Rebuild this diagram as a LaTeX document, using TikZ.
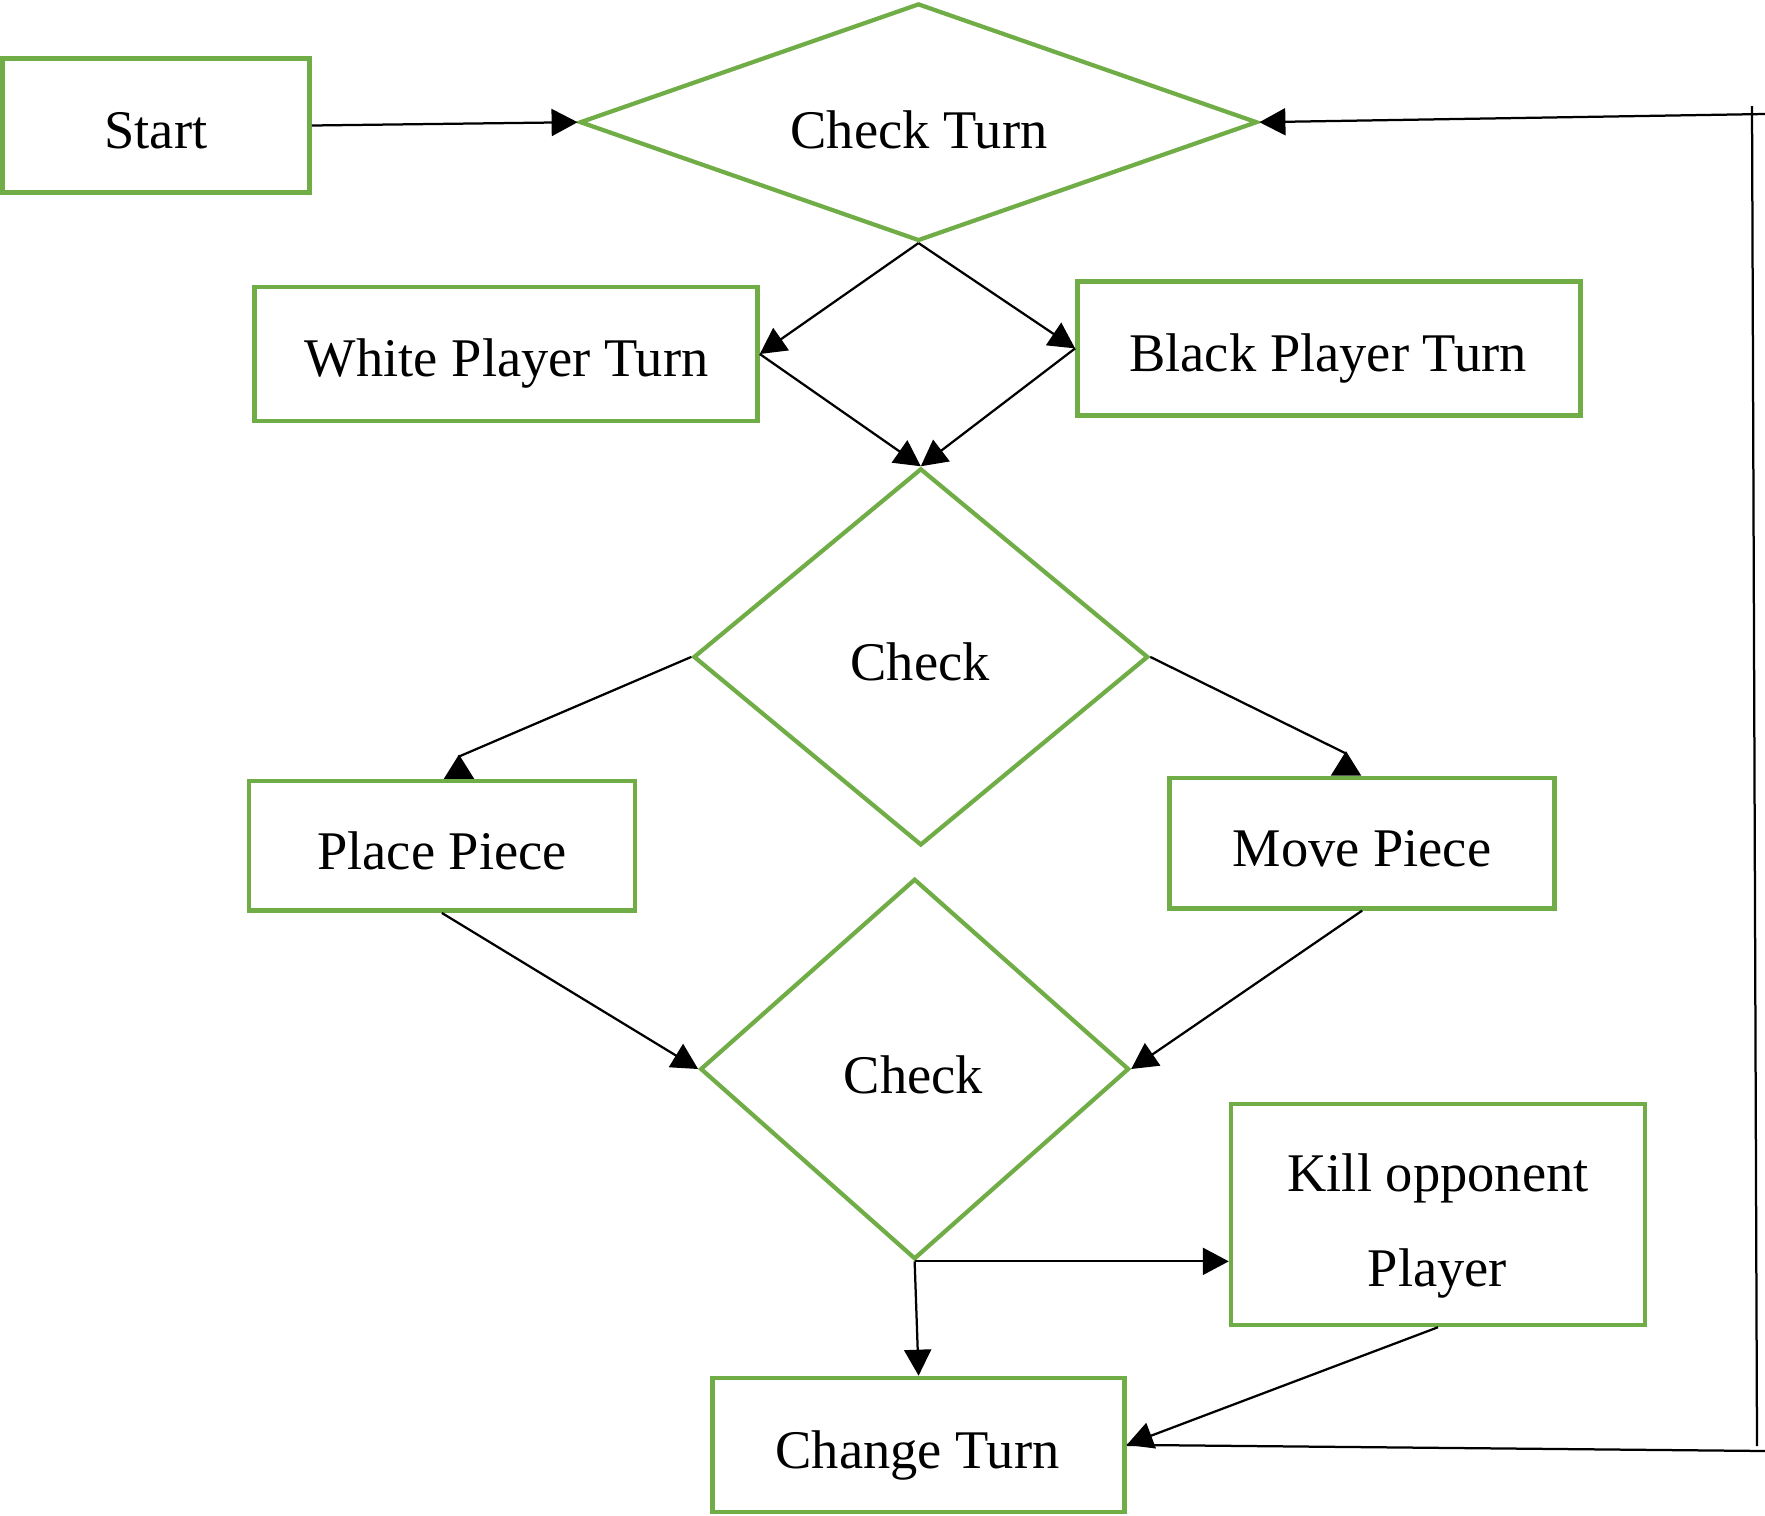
\documentclass[tikz,border=0pt]{standalone}
\usepackage{fontspec}
\setmainfont{Liberation Serif}
\usetikzlibrary{arrows.meta,shapes.geometric}
\definecolor{boxgreen}{HTML}{70AD47}
\begin{document}
\begin{tikzpicture}[x=0.02cm,y=-0.02cm,
  boxnode/.style={draw=boxgreen,line width=0.09cm,rectangle,inner sep=0pt},
  dianode/.style={draw=boxgreen,line width=0.085cm,diamond,inner sep=0pt},
  txt/.style={anchor=base,inner sep=0pt,font=\fontsize{31}{37}\selectfont},
  conn/.style={line width=0.045cm,-{Triangle[length=0.52cm,width=0.54cm]}},
  connrev/.style={line width=0.045cm,-{Triangle[reversed,length=0.49cm,width=0.6cm]}},
  plain/.style={line width=0.045cm}]
\useasboundingbox (0,0) rectangle (1765,1515);
% shapes
\node[boxnode,minimum width=6.146cm,minimum height=2.68cm] (start) at (156,125.5) {};
\node[dianode,minimum width=13.554cm,minimum height=4.75cm] (ct) at (918.5,122.2) {};
\node[boxnode,minimum width=10.064cm,minimum height=2.68cm] (white) at (506,354) {};
\node[boxnode,minimum width=10.064cm,minimum height=2.68cm] (black) at (1328.9,348.4) {};
\node[dianode,minimum width=9.096cm,minimum height=7.542cm] (c1) at (920.8,656.9) {};
\node[boxnode,minimum width=7.722cm,minimum height=2.59cm] (place) at (441.85,845.95) {};
\node[boxnode,minimum width=7.7cm,minimum height=2.61cm] (move) at (1362.1,843.15) {};
\node[dianode,minimum width=8.578cm,minimum height=7.61cm] (c2) at (914.65,1069) {};
\node[boxnode,minimum width=8.28cm,minimum height=4.42cm] (kill) at (1438,1214.5) {};
\node[boxnode,minimum width=8.24cm,minimum height=2.678cm] (change) at (918.6,1444.85) {};
% texts
\node[txt] (tstart) at (156,148) {Start};
\node[txt] (tct) at (919,148) {Check Turn};
\node[txt] (twhite) at (506.7,376.7) {White Player Turn};
\node[txt] (tblack) at (1328,371) {Black Player Turn};
\node[txt] (tc1) at (920,680) {Check};
\node[txt] (tplace) at (442,869) {Place Piece};
\node[txt] (tmove) at (1362,866) {Move Piece};
\node[txt] (tc2) at (913.5,1093) {Check};
\node[txt] (tkill) at (1438,1191.7) {Kill opponent};
\node[txt] (tplayer) at (1437.4,1286) {Player};
\node[txt] (tchange) at (917.5,1468) {Change Turn};
% helper coordinates
\coordinate (pa) at (459,756.5);
\coordinate (ma) at (1346,753.5);
\coordinate (r1) at (1765,1451);
\coordinate (r2) at (1757,1446);
\coordinate (r3) at (1752,106);
\coordinate (r4) at (1765,114);
% connectors
\draw[conn] (start.east) -- (ct.west);
\draw[conn] (ct.south) -- (white.east);
\draw[conn] (ct.south) -- (black.west);
\draw[conn] (white.east) -- (c1.north);
\draw[conn] (black.west) -- (c1.north);
\draw[connrev] (c1.west) -- (pa) -- (pa |- place.north);
\draw[connrev] (c1.east) -- (ma) -- (ma |- move.north);
\draw[conn] (place.south) -- (c2.west);
\draw[conn] (move.south) -- (c2.east);
\draw[conn] (c2.south) -- (c2.south -| kill.west);
\draw[conn] (c2.south) -- (change.north);
\draw[conn] (kill.south) -- (change.east);
\draw[plain] (change.east) -- (r1);
\draw[plain] (r2) -- (r3);
\draw[conn] (r4) -- (ct.east);
\end{tikzpicture}
\end{document}
